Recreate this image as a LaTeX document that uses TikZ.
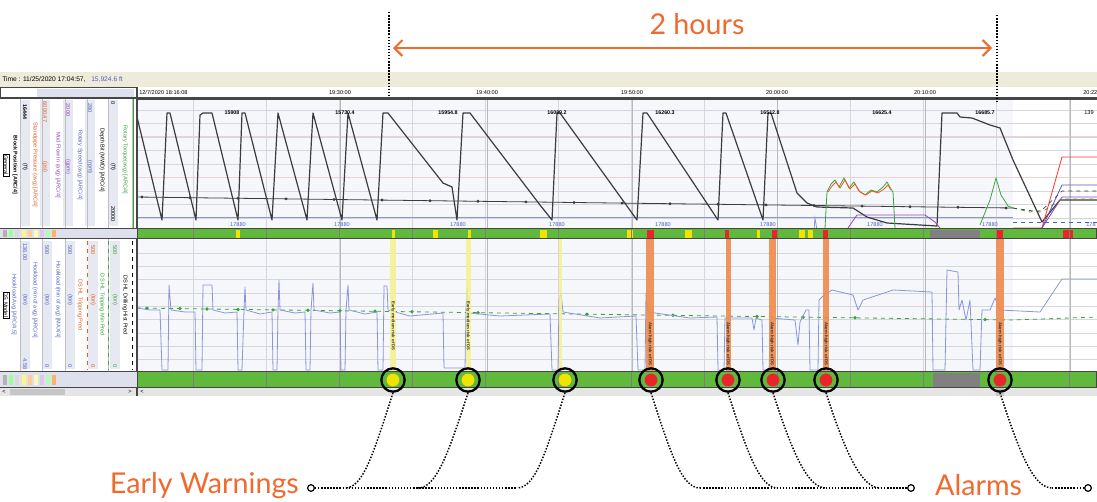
\documentclass[tikz,border=0pt]{standalone}
\usepackage{fontspec}
\newfontfamily\notefont{Lato}
\newfontfamily\chartfont{Liberation Sans}
\usetikzlibrary{positioning,arrows.meta}
\definecolor{hiorange}{RGB}{240,106,46}
\definecolor{stripbg}{RGB}{238,235,218}
\definecolor{hdrlav}{RGB}{222,224,238}
\definecolor{chartbg}{RGB}{246,247,250}
\definecolor{gridgray}{RGB}{214,214,222}
\definecolor{gridred}{RGB}{232,212,212}
\definecolor{bardark}{RGB}{70,70,70}
\definecolor{statusgreen}{RGB}{96,184,60}
\definecolor{warnyel}{RGB}{240,228,0}
\definecolor{bandyel}{RGB}{246,240,140}
\definecolor{alarmred}{RGB}{232,38,42}
\definecolor{bandorange}{RGB}{240,138,76}
\definecolor{tracegray}{RGB}{60,60,60}
\definecolor{traceblue}{RGB}{138,150,216}
\definecolor{tracegreen}{RGB}{58,163,58}
\definecolor{valblue}{RGB}{80,96,192}
\definecolor{valpurple}{RGB}{150,70,190}
\definecolor{valorange}{RGB}{236,90,30}
\definecolor{colfill}{RGB}{230,232,242}
\tikzset{
  note/.style     = {font=\notefont\fontsize{21.5}{23}\selectfont, text=hiorange, inner sep=0pt},
  span/.style     = {draw=hiorange, line width=1.5pt, {Straight Barb[length=6pt,width=12pt]}-{Straight Barb[length=6pt,width=12pt]}},
  marker/.style   = {circle, draw=black, line width=1.7pt, minimum size=17.5pt, inner sep=0pt},
  tie/.style      = {line width=1.1pt, dash pattern=on 1.1pt off 1.2pt},
  endpt/.style    = {circle, draw=black, line width=0.9pt, fill=white, minimum size=5pt, inner sep=0pt},
  gridline/.style = {draw=gridgray, line width=0.4pt},
  lbl/.style      = {font=\chartfont\fontsize{4.2}{4.6}\selectfont, inner sep=0pt},
  vlbl/.style     = {lbl, rotate=-90},
  statusbar/.style= {fill=statusgreen, draw=bardark, line width=1pt},
  bandtxt/.style  = {lbl, rotate=-90, text=black!80, font=\chartfont\bfseries\fontsize{3.2}{3.6}\selectfont},
}

\begin{document}
\begin{tikzpicture}[x=0.75pt,y=-0.75pt]
\useasboundingbox (0,0) rectangle (1097,501);

% span of two hours
\coordinate (t1top) at (389,12);
\coordinate (t1bot) at (389,97);
\coordinate (t2top) at (997,15);
\coordinate (t2bot) at (997,102);
\coordinate (spanl) at (393,48);
\coordinate (spanr) at (992,48);
\node[note] (hours) at (697,24) {2 hours};

% window strip and header row
\fill[stripbg] (0,72) rectangle (1097,87);
\node[lbl, anchor=west, font=\chartfont\fontsize{5}{5.5}\selectfont] (timelbl) at (2,79.5) {Time : 11/25/2020 17:04:57,};
\node[lbl, anchor=west, text=valblue, font=\chartfont\fontsize{5}{5.5}\selectfont] (depthlbl) at (91,79.5) {15,924.6 ft};
\fill[white] (0,87) rectangle (1097,98);
\fill[hdrlav] (37,89) rectangle (134,97);
\draw[bardark, line width=0.6pt] (0,87) rectangle (137,98);
\node[lbl, anchor=west] (t0) at (139,92.5) {12/7/2020 18:16:08};
\foreach \x/\tm in {340/19:30:00, 487/19:40:00, 632/19:50:00, 777/20:00:00, 925/20:10:00}
  \node[lbl] at (\x,92.5) {\tm};
\node[lbl, anchor=west] (tend) at (1083,92.5) {20:22};

% chart areas
\fill[chartbg] (137,98) rectangle (1013,228);
\fill[chartbg] (137,239) rectangle (1013,371);
\fill[white] (1013,98) rectangle (1097,228);
\fill[white] (1013,239) rectangle (1097,371);
\foreach \y in {110,123.5,...,218} \draw[gridline] (137,\y) -- (1097,\y);
\foreach \y in {136.5,177} \draw[gridred] (137,\y) -- (1097,\y);
\foreach \y in {253,266.3,...,366} \draw[gridline] (137,\y) -- (1097,\y);
\foreach \x in {193,266,...,1070} {
  \draw[gridline] (\x,98) -- (\x,228);
  \draw[gridline] (\x,239) -- (\x,371);
}
\foreach \x in {340,487,632,777,925,1070} {
  \draw[gray!55, line width=0.5pt] (\x,98) -- (\x,228);
  \draw[gray!55, line width=0.5pt] (\x,239) -- (\x,371);
}
\draw[bardark, line width=1.6pt] (0,98.5) -- (1097,98.5);

% upper chart traces
\draw[traceblue, line width=0.5pt] (137,217) -- (1013,217);
\draw[tracegray, line width=0.6pt] (137,197) -- (1013,208);
\foreach \x in {142,190,...,1012} \fill[tracegray] (\x,{197+(\x-137)*11/876}) circle (1.2pt);
\draw[tracegray, line width=0.9pt, line join=round] plot coordinates {
  (137,117) (162,220) (167,113) (170,113) (196,220) (200,115) (203,113) (212,113)
  (238,220) (242,113) (245,113) (272,220) (278,113) (307,220) (313,113) (342,220)
  (348,113) (377,220) (383,113) (388,113) (443,183) (452,187) (457,220) (463,113)
  (470,113) (540,205) (552,220) (557,113) (560,113) (637,220) (643,113) (647,113)
  (718,220) (723,113) (726,113) (763,220) (768,113) (771,113) (797,193) (807,203)
  (817,207) (853,208) (867,217) (887,223) (937,226) (942,113) (957,113) (960,117)
  (972,118) (990,125) (1000,128) (1013,160) (1042,222) (1060,200) (1097,200)};
\draw[tracegreen, line width=0.6pt] plot coordinates {
  (825,228) (827,192) (831,184) (835,180) (839,187) (844,178) (849,188) (854,182)
  (859,191) (865,195) (871,190) (877,192) (883,187) (887,182) (891,189) (893,192) (895,228)};
\draw[valorange, line width=0.6pt] plot coordinates {
  (828,192) (832,186) (836,182) (840,188) (845,180) (850,189) (855,184) (860,192)
  (866,195) (872,191) (878,193) (884,189) (888,185) (891,190)};
\draw[valpurple, line width=0.6pt] plot coordinates {
  (848,228) (857,215) (925,215) (935,222) (940,228)};
\draw[traceblue, line width=0.6pt] (814,230) -- (815,218) -- (817,230);
\draw[tracegreen, line width=0.6pt] plot coordinates {
  (980,225) (990,200) (996,178) (1001,195) (1008,206) (1013,208)};
\draw[tracegreen, line width=0.6pt, dashed] (1013,208) -- (1030,212) -- (1045,210) -- (1062,199) -- (1097,199);
\draw[red!80, line width=0.6pt] (1013,228) -- (1042,228) -- (1062,157) -- (1097,157);
\draw[valblue, line width=0.6pt] (1042,228) -- (1062,185) -- (1097,185);
\draw[valpurple, line width=0.6pt] (1042,228) -- (1062,197) -- (1097,197);
\draw[tracegray, line width=0.5pt, dashed] (1013,208) -- (1040,212) -- (1062,191) -- (1097,191);
\draw[valblue, line width=0.5pt, dashed] (1013,222) -- (1097,222);
\foreach \x/\v in {232/15908, 345/15730.4, 448/15954.8, 557/16089.2, 665/16260.3, 770/16512.8, 882/16625.4, 985/16685.7}
  \node[lbl, font=\chartfont\bfseries\fontsize{4}{4.4}\selectfont] at (\x,113) {\v};
\node[lbl, anchor=west] (peakend) at (1084,113) {139};
\foreach \x in {238,342,458,557,663,768,875,990}
  \node[lbl, text=valblue] at (\x,225) {17880};
\node[lbl, anchor=west, text=valblue] (lowend) at (1086,225) {178};

% lower chart traces
\draw[tracegreen, line width=0.6pt, dashed] (137,308) -- (1013,320) -- (1097,317);
\foreach \x in {147,180,207,238,273,308,340,375,412,478,587,673,757,803,855,985}
  \fill[tracegreen] (\x,{308+(\x-137)*12/876}) circle (1.4pt);
\draw[traceblue, line width=0.6pt, line join=round] plot coordinates {
  (137,308) (150,310) (160,310) (162,370) (168,370) (169,285) (171,310) (185,312)
  (195,312) (196,370) (202,370) (203,285) (212,285) (213,310) (225,313) (237,312)
  (238,370) (242,370) (244,310) (245,287) (246,310) (260,314) (272,312) (273,370)
  (277,370) (278,310) (279,280) (280,310) (295,313) (305,312) (306,370) (310,370)
  (311,310) (313,283) (314,310) (330,313) (340,312) (341,370) (345,370) (346,310)
  (348,285) (349,310) (365,314) (377,312) (378,370) (383,370) (384,286) (387,286)
  (388,310) (410,316) (443,313) (444,368) (465,368) (466,310) (467,288) (469,313)
  (500,316) (550,314) (552,370) (558,370) (559,300) (561,293) (563,312) (600,318)
  (636,316) (638,370) (645,370) (646,293) (648,312) (690,318) (717,317) (718,370)
  (724,370) (725,318) (752,318) (754,330) (756,318) (762,320) (763,370) (769,370)
  (771,318) (795,320) (798,345) (800,322) (806,310) (809,310) (810,370) (818,370)
  (819,300) (822,297) (832,290) (853,295) (858,310) (863,300) (893,290) (932,292)
  (933,370) (945,370) (947,270) (958,272) (959,310) (962,300) (966,320) (970,300)
  (973,370) (980,370) (982,310) (990,310) (995,298) (1000,310) (1040,312) (1062,279) (1097,279)};

% highlighted bands
\foreach \x/\w in {393/6, 468/5, 560/3} {
  \fill[bandyel, opacity=0.85] ({\x-\w/2},239) rectangle ({\x+\w/2},371);
}
\foreach \x in {393,468} \node[bandtxt] at (\x,326) {Early medium risk of DS};
\foreach \x/\w in {650/8, 728/5, 772/7, 826/6, 1000/8} {
  \fill[bandorange, opacity=0.9] ({\x-\w/2},239) rectangle ({\x+\w/2},371);
  \node[bandtxt] at (\x,344) {Alarm high risk of DS};
}
\fill[bandorange, opacity=0.9] (996,371) rectangle (1004,396);

% status bars
\draw[statusbar] (137,228.5) rectangle (1097,238.5);
\foreach \a/\b in {236/240, 392/395, 433/438, 468/471, 540/547, 627/633, 685/692, 757/760, 799/805, 808/813}
  \fill[warnyel] (\a,229.5) rectangle (\b,237.5);
\foreach \a/\b in {647/654, 725/729, 772/777, 823/828, 997/1003, 1063/1073}
  \fill[alarmred] (\a,229.5) rectangle (\b,237.5);
\fill[gray] (930,229.5) rectangle (980,237.5);
\draw[statusbar] (137,371.5) rectangle (1097,387.5);
\fill[gray] (933,372.5) rectangle (980,386.5);
\foreach \x in {193,266,...,1070} {
  \draw[bardark!70, line width=0.5pt] (\x,229) -- (\x,238);
  \draw[bardark!70, line width=0.5pt] (\x,372) -- (\x,387);
}
\fill[gray!20] (0,388) rectangle (1097,396);
\fill[gray!45] (10,389) rectangle (65,395);
\node[lbl] (sl) at (4,392) {<};
\node[lbl] (sr) at (130,392) {>};
\node[lbl] (sc) at (142,392) {<};
\fill[gray!45] (996,388) rectangle (1004,396);

% left panel
\fill[white] (0,98.5) rectangle (137,228.5);
\fill[white] (0,238.5) rectangle (137,371.5);
\foreach \x in {25,45,68,90,113} \fill[colfill] ({\x-5},100) rectangle ({\x+5},226);
\foreach \x in {25,47,70,93,115} \fill[colfill] ({\x-5},241) rectangle ({\x+5},369);
\foreach \x in {20,42,65,87,108,132} \draw[gray!50, line width=0.4pt] (\x,99) -- (\x,228);
\foreach \x in {20,42,65,108} \draw[gray!50, line width=0.4pt] (\x,239) -- (\x,371);
\draw[tracegreen, line width=0.5pt] (133,99) -- (133,228);
\draw[bardark, line width=0.8pt] (137,87) -- (137,396);
\node[vlbl, draw, line width=0.3pt, inner sep=0.6pt] (general) at (6,165) {General};
\node[vlbl, font=\chartfont\bfseries\fontsize{4}{4.4}\selectfont] (blockpos) at (15,165) {Block Position [ARC/4]};
\node[vlbl, font=\chartfont\bfseries\fontsize{4}{4.4}\selectfont] at (25,112) {16444};
\node[vlbl] at (25,167) {(ft)};
\node[vlbl, text=valorange] (spp) at (35,165) {Standpipe Pressure (avg) [ARC/4]};
\node[vlbl, text=valorange] at (45,112) {6000.47};
\node[vlbl, text=valorange] at (45,167) {(psi)};
\node[vlbl, text=valpurple] (flow) at (58,165) {Mud Flow In (avg) [ARC/4]};
\node[vlbl, text=valpurple] at (68,110) {2000};
\node[vlbl, text=valpurple] at (68,167) {(gpm)};
\node[vlbl, text=valblue] (rpm) at (80,165) {Rotary Speed (avg) [ARC/4]};
\node[vlbl, text=valblue] at (90,108) {280};
\node[vlbl, text=valblue] at (90,167) {(rpm)};
\node[vlbl] (bitdepth) at (102,160) {Depth Bit (MWD) [ARC/4]};
\node[vlbl] at (113,103) {0};
\node[vlbl] at (113,167) {(ft)};
\node[vlbl] at (113,214) {20000};
\node[vlbl, text=tracegreen] (torque) at (125,160) {Rotary Torque(avg) [ARC/4]};

\node[vlbl, draw, line width=0.3pt, inner sep=0.6pt] (dsmodel) at (6,305) {DS Model};
\node[vlbl, text=valblue] (hlavg) at (14,305) {Hookload Avg [ARC/4.5]};
\node[vlbl, text=valblue] at (25,252) {136.00};
\node[vlbl, text=valblue] at (25,300) {(ton)};
\node[vlbl, text=valblue] at (25,364) {4.58};
\node[vlbl, text=valblue] (hlmin) at (35,300) {Hookload (min of avg) [ARC/4]};
\node[vlbl, text=valblue] (hlmax) at (58,300) {Hookload (min of avg) [MAX/4]};
\foreach \x in {47,70} {
  \node[vlbl, text=valblue] at (\x,250) {500};
  \node[vlbl, text=valblue] at (\x,300) {(ton)};
  \node[vlbl, text=valblue] at (\x,366) {0};
}
\node[vlbl, text=valorange] (trip) at (80,305) {DS HL Tripping Pred};
\draw[valorange, dashed, line width=0.6pt] (87,241) -- (87,370);
\node[vlbl, text=valorange] at (93,250) {500};
\node[vlbl, text=valorange] at (93,300) {(ton)};
\node[vlbl, text=valorange] at (93,366) {0};
\node[vlbl, text=tracegreen] (tripmin) at (102,305) {DS HL Tripping Min Pred};
\draw[tracegreen, dashed, line width=0.6pt] (108,241) -- (108,370);
\node[vlbl, text=tracegreen] at (115,250) {500};
\node[vlbl, text=tracegreen] at (115,300) {(ton)};
\node[vlbl, text=tracegreen] at (115,366) {0};
\node[vlbl] (drill) at (125,305) {DS HL Drilling Hist Pred};
\draw[black, dashed, line width=0.6pt] (132,241) -- (132,370);

% left status tiles
\fill[hdrlav] (0,229) rectangle (137,238);
\fill[hdrlav] (0,372) rectangle (137,387);
\foreach \x/\c in {3/gray!60, 9/green!40, 15/gray!30, 22/yellow!50, 28/orange!40, 34/yellow!30, 40/valpurple!30, 46/green!30, 52/orange!60}
  \fill[\c] (\x,230) rectangle ({\x+4},237);
\foreach \x/\c in {3/gray!60, 9/green!40, 15/gray!30, 22/yellow!50, 28/orange!40, 34/yellow!30, 40/valpurple!30, 46/green!30, 52/orange!60}
  \fill[\c] (\x,375) rectangle ({\x+4},385);
\draw[bardark, line width=0.8pt] (0,228.5) -- (137,228.5) (0,238.5) -- (137,238.5);
\draw[bardark, line width=0.8pt] (0,371.5) -- (137,371.5) (0,387.5) -- (137,387.5);

% event markers
\foreach \nm/\x in {w1/393, w2/468, w3/565} {
  \fill[warnyel] (\x,380) circle (4.8pt);
  \node[marker] (\nm) at (\x,380) {};
}
\foreach \nm/\x in {a1/651, a2/728, a3/773, a4/826, a5/1000} {
  \fill[alarmred] (\x,380) circle (4.8pt);
  \node[marker] (\nm) at (\x,380) {};
}

% ends of the ties
\node[endpt] (ewend) at (311,488) {};
\node[endpt] (alend) at (911,488) {};
\node[endpt] (lastend) at (1088,488) {};
\node[note, left=6pt of ewend, yshift=2pt] (early) {Early Warnings};
\node[note, right=15pt of alend, yshift=2pt] (alarms) {Alarms};
\coordinate (j1) at (345,488);
\coordinate (j2) at (418,488);
\coordinate (j3) at (517,488);
\coordinate (j4) at (700,488);
\coordinate (j5) at (778,488);
\coordinate (j6) at (826,488);
\coordinate (j7) at (880,488);
\coordinate (j8) at (1052,488);

% connectors
\draw[tie] (t1top) -- (t1bot);
\draw[tie] (t2top) -- (t2bot);
\draw[span] (spanl) -- (spanr);
\draw[tie] (w1.south) .. controls +(-20,62) and +(18,0) .. (j1);
\draw[tie] (w2.south) .. controls +(-20,62) and +(18,0) .. (j2);
\draw[tie] (w3.south) .. controls +(-20,62) and +(18,0) .. (j3);
\draw[tie] (ewend.east) -- (j3);
\draw[tie] (a1.south) .. controls +(20,62) and +(-18,0) .. (j4);
\draw[tie] (a2.south) .. controls +(20,62) and +(-18,0) .. (j5);
\draw[tie] (a3.south) .. controls +(20,62) and +(-18,0) .. (j6);
\draw[tie] (a4.south) .. controls +(20,62) and +(-18,0) .. (j7);
\draw[tie] (j4) -- (alend.west);
\draw[tie] (a5.south) .. controls +(20,62) and +(-18,0) .. (j8);
\draw[tie] (j8) -- (lastend.west);
\end{tikzpicture}
\end{document}
